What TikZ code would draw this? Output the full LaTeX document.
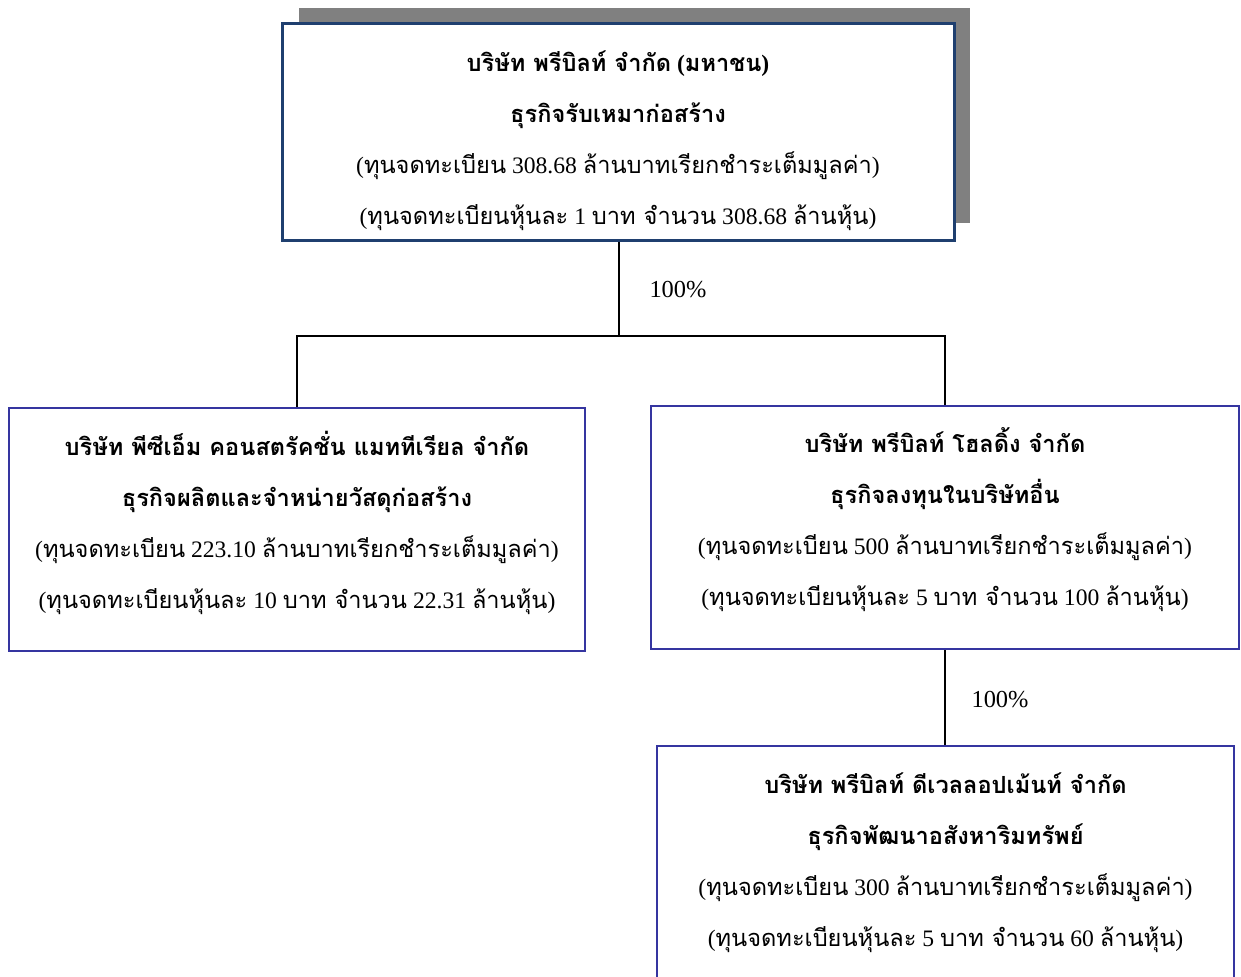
\documentclass[tikz,border=0pt]{standalone}
\usepackage{fontspec}
\setmainfont{Liberation Serif}
\newfontfamily\thaifont[Script=Thai]{Loma}
\newcommand{\tf}[1]{{\thaifont #1}}
\usetikzlibrary{positioning}

\definecolor{topline}{HTML}{1F3F6F}
\definecolor{boxline}{HTML}{3535A0}
\definecolor{shadowgray}{HTML}{808080}

\begin{document}
\begin{tikzpicture}[x=0.5pt, y=-0.5pt,
	company/.style={draw=boxline, line width=1pt, fill=white, minimum height=121.5pt, inner sep=0pt},
	holding/.style={company, draw=topline, line width=1.5pt, minimum height=108.5pt},
	info/.style={align=center, font=\fontsize{11.8}{25.5}\selectfont, inner sep=0pt},
	link/.style={line width=1pt, black},
	share/.style={font=\fontsize{12.2}{14}\selectfont, anchor=center}]
	\clip (0,0) rectangle (1241,976);

	% parent company with its shadow
	\fill [shadowgray] (299,8) rectangle (970,223);
	\node [holding, minimum width=336pt] (pb) at (618,131.5) {};
	\node [info] (pbinfo) at ([yshift=-4.5pt]pb.center)
		{\textbf{\tf{บริษัท พรีบิลท์ จำกัด} (\tf{มหาชน})}\\
		 \textbf{\tf{ธุรกิจรับเหมาก่อสร้าง}}\\
		 (\tf{ทุนจดทะเบียน} 308.68 \tf{ล้านบาทเรียกชำระเต็มมูลค่า})\\
		 (\tf{ทุนจดทะเบียนหุ้นละ} 1 \tf{บาท จำนวน} 308.68 \tf{ล้านหุ้น})};

	% subsidiaries
	\node [company, minimum width=288pt] (pcm) at (297,529.5) {};
	\node [info] (pcminfo) at ([yshift=3.5pt]pcm.center)
		{\textbf{\tf{บริษัท พีซีเอ็ม คอนสตรัคชั่น แมททีเรียล จำกัด}}\\
		 \textbf{\tf{ธุรกิจผลิตและจำหน่ายวัสดุก่อสร้าง}}\\
		 (\tf{ทุนจดทะเบียน} 223.10 \tf{ล้านบาทเรียกชำระเต็มมูลค่า})\\
		 (\tf{ทุนจดทะเบียนหุ้นละ} 10 \tf{บาท จำนวน} 22.31 \tf{ล้านหุ้น})};

	\node [company, minimum width=294pt] (pbh) at (945,527.5) {};
	\node [info] (pbhinfo) at ([yshift=4pt]pbh.center)
		{\textbf{\tf{บริษัท พรีบิลท์ โฮลดิ้ง จำกัด}}\\
		 \textbf{\tf{ธุรกิจลงทุนในบริษัทอื่น}}\\
		 (\tf{ทุนจดทะเบียน} 500 \tf{ล้านบาทเรียกชำระเต็มมูลค่า})\\
		 (\tf{ทุนจดทะเบียนหุ้นละ} 5 \tf{บาท จำนวน} 100 \tf{ล้านหุ้น})};

	\node [company, minimum width=288.5pt, minimum height=122pt] (pbd) at (945.5,868) {};
	\node [info] (pbdinfo) at ([yshift=2.5pt]pbd.center)
		{\textbf{\tf{บริษัท พรีบิลท์ ดีเวลลอปเม้นท์ จำกัด}}\\
		 \textbf{\tf{ธุรกิจพัฒนาอสังหาริมทรัพย์}}\\
		 (\tf{ทุนจดทะเบียน} 300 \tf{ล้านบาทเรียกชำระเต็มมูลค่า})\\
		 (\tf{ทุนจดทะเบียนหุ้นละ} 5 \tf{บาท จำนวน} 60 \tf{ล้านหุ้น})};

	% connectors
	\coordinate (fork) at (619,336);
	\draw [link] (pb.south -| fork) -- (fork);
	\draw [link] (pcm.north) |- (fork) -| (pbh.north);
	\draw [link] (pbh.south) -- (pbh.south |- pbd.north);

	\node [share] (s1) at (678,290) {100\%};
	\node [share] (s2) at (1000,700) {100\%};
\end{tikzpicture}
\end{document}
